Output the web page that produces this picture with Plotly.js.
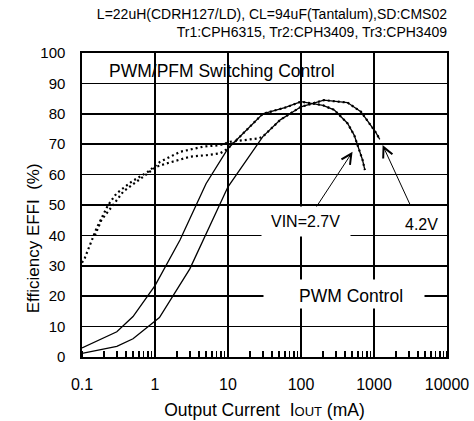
<!DOCTYPE html>
<html>
<head>
<meta charset="utf-8">
<script src="https://cdn.plot.ly/plotly-3.0.1.min.js"></script>
<style>html,body{margin:0;padding:0;background:#fff;overflow:hidden;}#chart{width:474px;height:421px;}</style>
</head>
<body>
<div id="chart"></div>
<script>
// PWM control (solid)
var pwm27_x = [0.1, 0.3, 0.5, 1, 2.2, 5, 10, 30, 60, 100, 200, 284, 433, 535, 627, 697, 750];
var pwm27_y = [3, 8.3, 13.3, 23.5, 38.5, 57, 68.6, 80, 82, 84, 82.8, 81.3, 76.9, 73, 68.1, 64.8, 61.5];
var pwm42_x = [0.1, 0.3, 0.5, 1.15, 3, 10, 30, 52, 100, 206, 433, 661, 859, 1050, 1200];
var pwm42_y = [1.2, 3.5, 6, 13, 29, 56, 72.5, 78, 82.3, 84.5, 83.7, 80.7, 76.9, 74, 71.6];
// PWM/PFM switching control (dotted)
var pfm27_x = [0.15, 0.185, 0.267, 0.367, 0.69, 1.05, 1.45, 3.03, 5.14, 7.8, 10, 30, 60, 100, 200, 284, 433, 535, 627, 697, 750];
var pfm27_y = [40, 45.1, 50, 54.4, 59.3, 62.6, 63.7, 65.9, 66.4, 67, 68.6, 80, 82, 84, 82.8, 81.3, 76.9, 73, 68.1, 64.8, 61.5];
var pfm42_x = [0.1, 0.109, 0.158, 0.228, 0.297, 0.479, 0.81, 1.17, 2.21, 4.6, 7.8, 10.7, 26, 30, 52, 100, 206, 433, 661, 859, 1050, 1200];
var pfm42_y = [31, 32.5, 42.3, 50, 53.8, 57.7, 61, 64.2, 67.5, 69.2, 69.7, 70.8, 71.9, 72.5, 78, 82.3, 84.5, 83.7, 80.7, 76.9, 74, 71.6];

var xTickVals = [0.1, 1, 10, 100, 1000, 10000];
var xTickText = ['0.1', '1', '10', '100', '1000', '10000'];

var FONT = 'Liberation Sans, Arial, sans-serif';
var solid = {color: '#000', width: 1.3};
var dotted = {color: '#000', width: 2.2, dash: '2px,3px'};

var traces = [
  {x: pwm27_x, y: pwm27_y, mode: 'lines', line: solid, name: 'PWM 2.7V'},
  {x: pwm42_x, y: pwm42_y, mode: 'lines', line: solid, name: 'PWM 4.2V'},
  {x: pfm27_x, y: pfm27_y, mode: 'lines', line: dotted, name: 'PWM/PFM 2.7V'},
  {x: pfm42_x, y: pfm42_y, mode: 'lines', line: dotted, name: 'PWM/PFM 4.2V'}
];

var layout = {
  width: 474, height: 421,
  margin: {l: 82, r: 27, t: 53, b: 64},
  paper_bgcolor: '#fff', plot_bgcolor: '#fff',
  showlegend: false,
  font: {family: FONT, color: '#000'},
  title: {
    text: 'L=22uH(CDRH127/LD), CL=94uF(Tantalum),SD:CMS02<br>Tr1:CPH6315, Tr2:CPH3409, Tr3:CPH3409',
    font: {family: FONT, size: 14, color: '#000'},
    x: 1, xref: 'paper', xanchor: 'right',
    y: 0.955, yref: 'container', yanchor: 'top'
  },
  xaxis: {
    type: 'log', range: [-1, 4],
    tickmode: 'array', tickvals: xTickVals, ticktext: xTickText,
    ticks: '', ticklabelstandoff: 12,
    tickfont: {family: FONT, size: 16, color: '#000'},
    showgrid: true, gridcolor: '#000', gridwidth: 1.5,
    showline: true, linecolor: '#000', linewidth: 1.6, mirror: true,
    zeroline: false,
    minor: {dtick: 'D1', ticks: 'inside', ticklen: 6, tickwidth: 1.4, tickcolor: '#000', showgrid: false},
    title: {text: 'Output Current  I<span style="font-size:13px">OUT</span> (mA)', font: {family: FONT, size: 17.5, color: '#000'}, standoff: 12}
  },
  yaxis: {
    range: [0, 100], tickmode: 'linear', tick0: 0, dtick: 10,
    ticks: '', ticklabelstandoff: 12,
    tickfont: {family: FONT, size: 15, color: '#000'},
    showgrid: true, gridcolor: '#000', gridwidth: 1.5,
    showline: true, linecolor: '#000', linewidth: 1.6, mirror: true,
    zeroline: false
  },
  annotations: [
    // y-axis title
    {xref: 'paper', yref: 'paper', x: -0.133, y: 0.392, xanchor: 'center', yanchor: 'middle', textangle: -90, text: 'Efficiency EFFI  (%)', showarrow: false, font: {family: FONT, size: 17, color: '#000'}},
    // white boxes that interrupt the grid behind the labels
    {xref: 'paper', yref: 'paper', x: 0.615, y: 0.4455, xanchor: 'center', yanchor: 'middle', text: ' ', showarrow: false, width: 88, height: 29, bgcolor: '#fff', borderpad: 0},
    {xref: 'paper', yref: 'paper', x: 0.717, y: 0.207, xanchor: 'center', yanchor: 'middle', text: ' ', showarrow: false, width: 160, height: 28, bgcolor: '#fff', borderpad: 0},
    {xref: 'x', yref: 'y', x: -0.664, y: 94.2, xanchor: 'left', yanchor: 'middle', text: 'PWM/PFM Switching Control', showarrow: false, font: {family: FONT, size: 17.5, color: '#000'}},
    {xref: 'x', yref: 'y', x: 2.689, y: 20, xanchor: 'center', yanchor: 'middle', text: 'PWM Control', showarrow: false, font: {family: FONT, size: 17.5, color: '#000'}},
    {xref: 'x', yref: 'y', x: 2.063, y: 44.6, xanchor: 'center', yanchor: 'middle', text: 'VIN=2.7V', showarrow: false, font: {family: FONT, size: 16, color: '#000'}},
    {xref: 'x', yref: 'y', x: 3.645, y: 43.75, xanchor: 'center', yanchor: 'middle', text: '4.2V', showarrow: false, font: {family: FONT, size: 16, color: '#000'}},
    {xref: 'x', yref: 'y', x: 2.706, y: 67.5, axref: 'x', ayref: 'y', ax: 2.2, ay: 49, text: '', showarrow: true, arrowhead: 5, arrowsize: 2, arrowwidth: 1, arrowcolor: '#000', standoff: 0},
    {xref: 'x', yref: 'y', x: 3.118, y: 69.7, axref: 'x', ayref: 'y', ax: 3.508, ay: 49.4, text: '', showarrow: true, arrowhead: 5, arrowsize: 2, arrowwidth: 1, arrowcolor: '#000', standoff: 0}
  ]
};

Plotly.newPlot('chart', traces, layout, {staticPlot: true, displayModeBar: false});
</script>
</body>
</html>
